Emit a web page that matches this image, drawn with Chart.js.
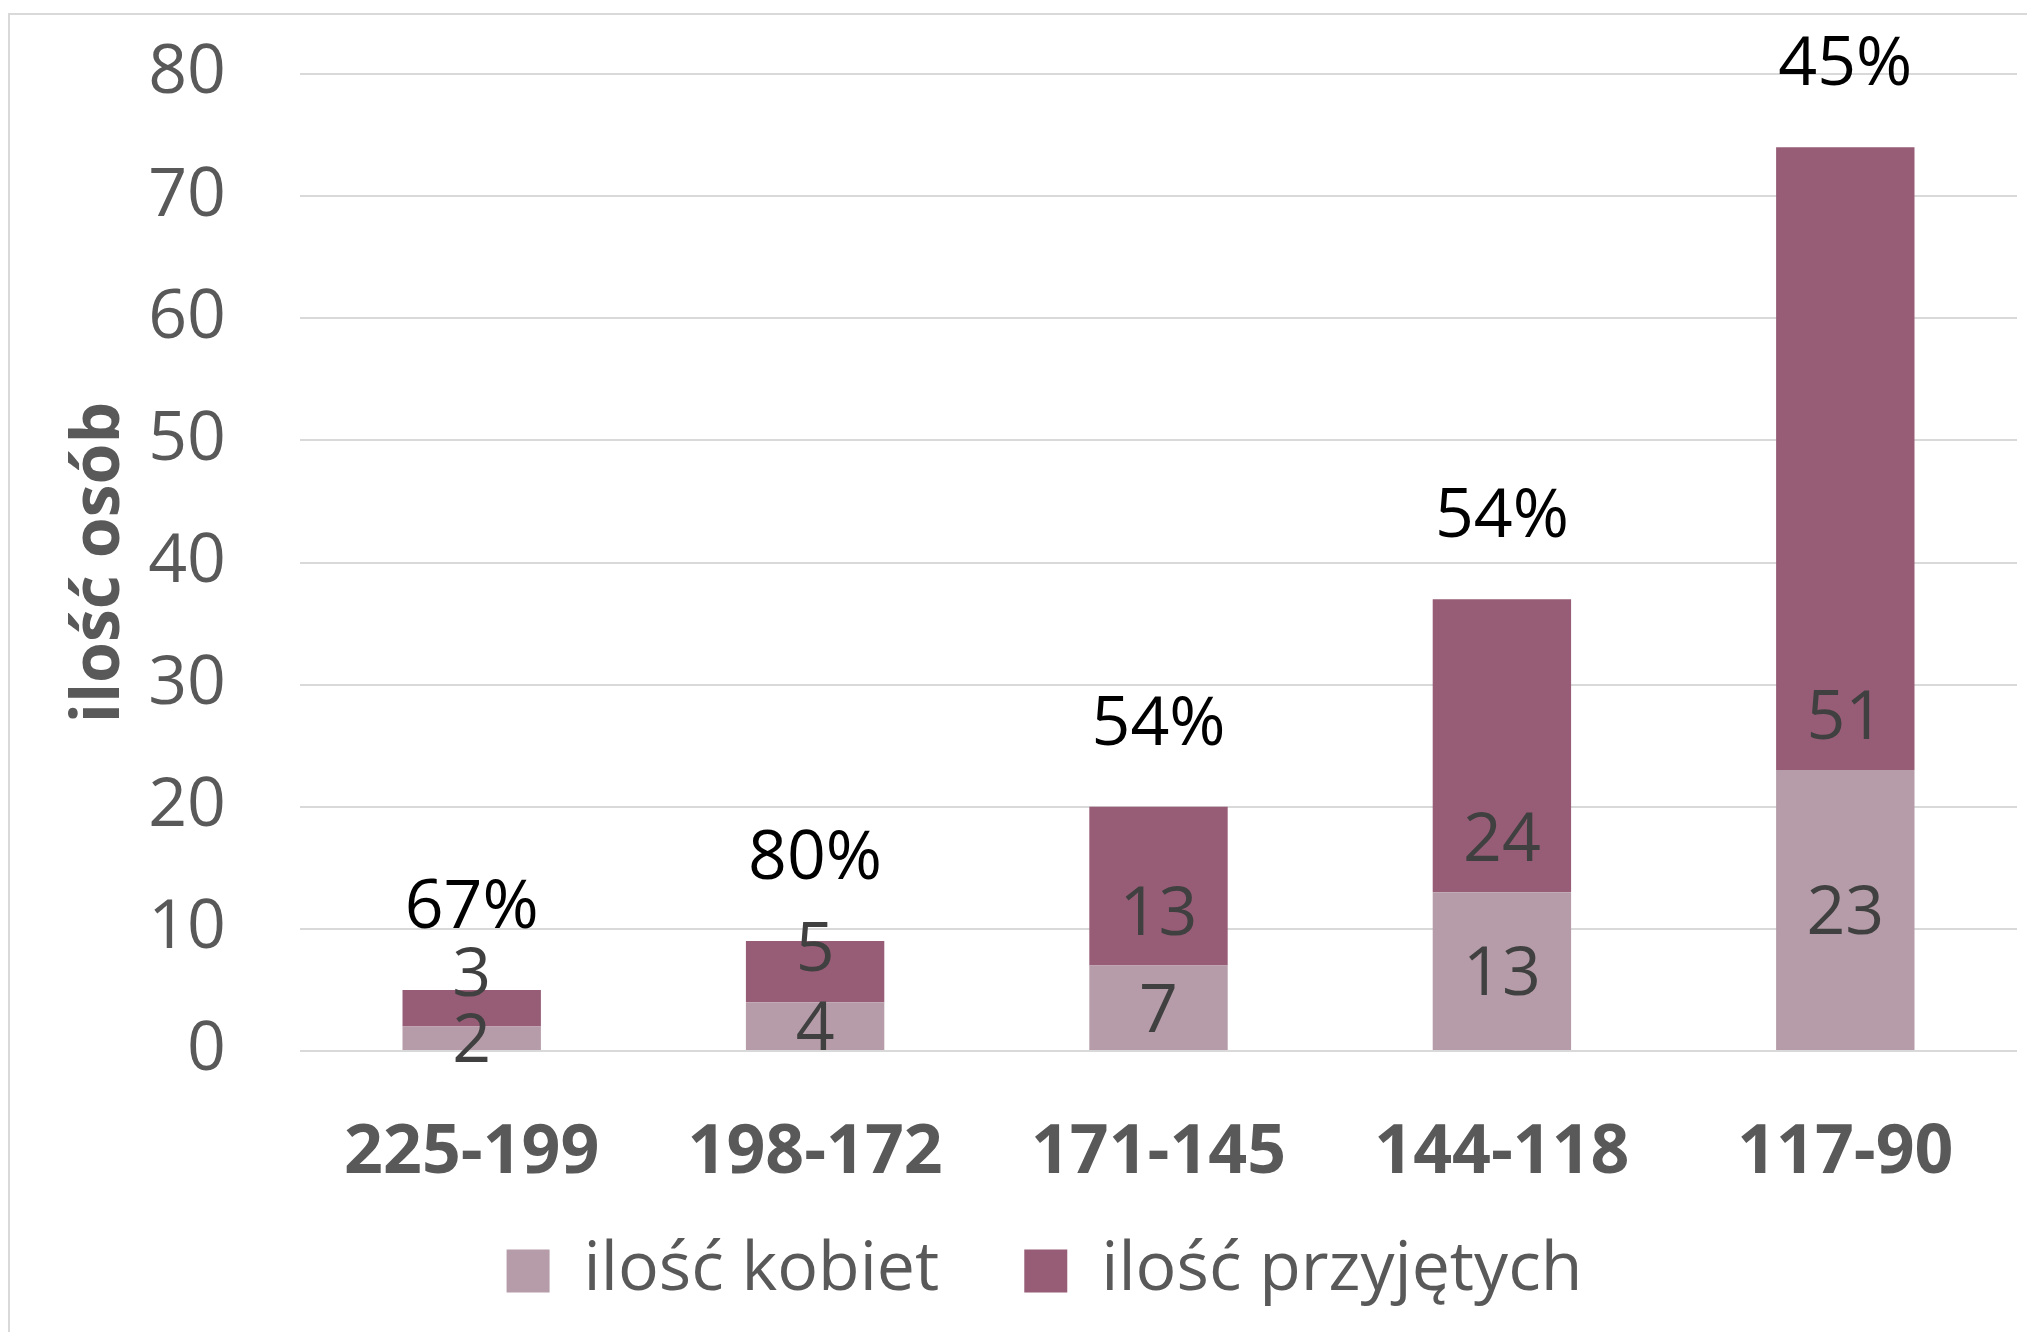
<!DOCTYPE html>
<html>
<head>
<meta charset="utf-8">
<script src="https://cdn.jsdelivr.net/npm/chart.js@4.4.1/dist/chart.umd.min.js"></script>
<style>
  html, body { margin: 0; padding: 0; background: #fff; }
</style>
</head>
<body>
<canvas id="chart" width="2027" height="1332"></canvas>
<script>
// przedziały punktowe i liczby osób
const categories = ['225-199', '198-172', '171-145', '144-118', '117-90'];
const kobiety = [2, 4, 7, 13, 23];
const przyjeci = [3, 5, 13, 24, 51];
const yMax = 80;
const yStep = 10;

const gray = '#595959';

// ramka wokół wykresu, jak w Excelu
const framePlugin = {
    id: 'frame',
    beforeDraw(chart) {
        const ctx = chart.ctx;
        ctx.save();
        ctx.fillStyle = '#fff';
        ctx.fillRect(0, 0, chart.width, chart.height);
        ctx.strokeStyle = '#D9D9D9';
        ctx.lineWidth = 2;
        ctx.strokeRect(9, 14, chart.width + 50, chart.height + 50);
        ctx.restore();
    },
    afterLayout(chart) {
        // legenda trochę w prawo, tak jak w oryginale
        chart.legend.left += 36;
        chart.legend.right += 36;
        // żeby etykiety osi X nie były przycinane
        chart.scales.x.bottom += 60;
    }
};

// etykiety wartości i procenty nad słupkami
const labelPlugin = {
    id: 'barLabels',
    afterDatasetsDraw(chart) {
        const ctx = chart.ctx;
        const capHalf = 24;
        ctx.save();
        ctx.font = '68px "Open Sans"';
        ctx.textAlign = 'center';
        ctx.textBaseline = 'alphabetic';
        chart.getDatasetMeta(0).data.forEach((bar, i) => {
            ctx.fillStyle = '#404040';
            ctx.fillText(String(kobiety[i]), bar.x, (bar.y + bar.base) / 2 + capHalf);
        });
        chart.getDatasetMeta(1).data.forEach((bar, i) => {
            ctx.fillStyle = '#404040';
            ctx.fillText(String(przyjeci[i]), bar.x, bar.base - 55 + capHalf);
            const pct = Math.round(kobiety[i] / przyjeci[i] * 100) + '%';
            ctx.fillStyle = '#000';
            ctx.fillText(pct, bar.x, bar.y - 86 + capHalf);
        });
        ctx.restore();
    }
};

Chart.defaults.font.family = '"Open Sans", sans-serif';

const ctx = document.getElementById('chart').getContext('2d');
const chart = new Chart(ctx, {
    type: 'bar',
    data: {
        labels: categories,
        datasets: [{
            label: 'ilość kobiet',
            data: kobiety,
            backgroundColor: '#B59CA8',
            categoryPercentage: 1,
            barPercentage: 0.403
        }, {
            label: 'ilość przyjętych',
            data: przyjeci,
            backgroundColor: '#975D76',
            categoryPercentage: 1,
            barPercentage: 0.403
        }]
    },
    options: {
        responsive: false,
        animation: false,
        layout: {
            padding: { left: 0, right: 10, top: 74, bottom: 17 }
        },
        plugins: {
            legend: {
                position: 'bottom',
                labels: {
                    boxWidth: 43,
                    boxHeight: 43,
                    color: gray,
                    font: { size: 68 },
                    padding: 85
                }
            },
            tooltip: { enabled: false }
        },
        scales: {
            x: {
                stacked: true,
                grid: { display: false },
                border: { display: false },
                ticks: {
                    color: gray,
                    font: { size: 68, weight: 'bold' },
                    padding: 54
                },
                afterFit(scale) { scale.height = 101; }
            },
            y: {
                stacked: true,
                min: 0,
                max: yMax,
                grid: { color: '#D9D9D9', lineWidth: 2, drawTicks: false },
                border: { display: false },
                ticks: {
                    stepSize: yStep,
                    color: gray,
                    font: { size: 68 },
                    padding: 74
                },
                title: {
                    display: true,
                    text: 'ilość osób',
                    color: gray,
                    font: { size: 66, weight: 'bold' },
                    padding: { top: 61, bottom: 0 }
                },
                afterFit(scale) {
                    scale.width = 300;
                    scale.paddingTop = 0;
                    scale.paddingBottom = 0;
                }
            }
        }
    },
    plugins: [framePlugin, labelPlugin]
});
</script>
</body>
</html>
